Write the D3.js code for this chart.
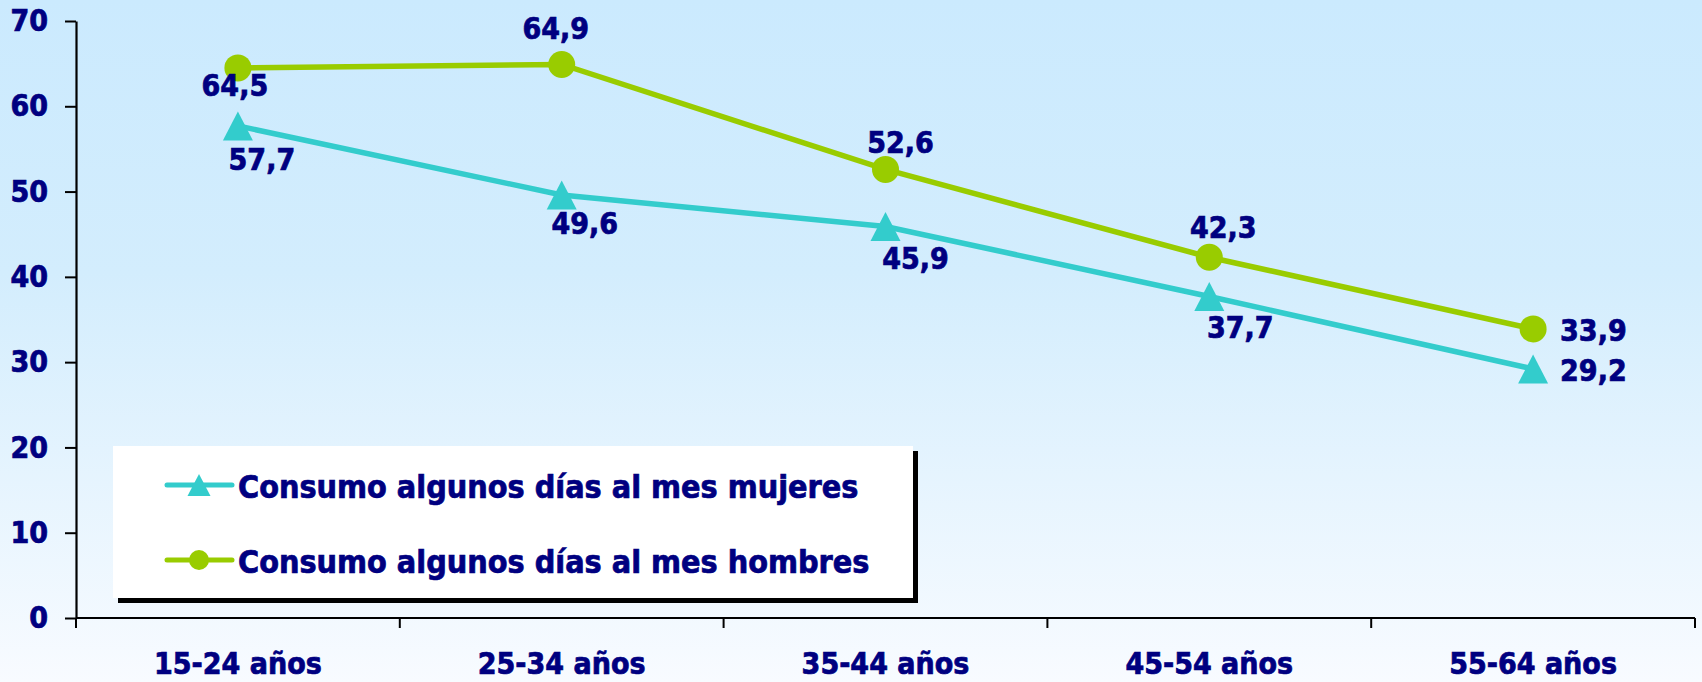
<!DOCTYPE html>
<html>
<head>
<meta charset="utf-8">
<script src="https://cdn.jsdelivr.net/npm/d3@7"></script>
<style>
  html, body { margin: 0; padding: 0; background: #fff; }
  svg { display: block; }
  text { font-family: "DejaVu Sans Condensed", "DejaVu Sans", sans-serif; font-weight: bold; font-stretch: condensed; fill: #000080; stroke: #000080; stroke-width: 0.7px; }
</style>
</head>
<body>
<div id="vis"></div>
<script>

var categories = ["15-24 años", "25-34 años", "35-44 años", "45-54 años", "55-64 años"];
var mujeres = [57.7, 49.6, 45.9, 37.7, 29.2];
var hombres = [64.5, 64.9, 52.6, 42.3, 33.9];
var seriesNames = ["Consumo algunos días al mes mujeres", "Consumo algunos días al mes hombres"];
var yTicks = [0, 10, 20, 30, 40, 50, 60, 70];

function drawChart() {

	var width = 1702, height = 682;

	// plot area
	var plotLeft = 76, plotRight = 1695, plotTop = 21, plotBottom = 618;

	// label nudges (dx, dy from the marker centre), placed like the original
	var mujeresLabelPos = [[24, 44, "middle"], [23, 39, "middle"], [30, 42, "middle"], [31, 42, "middle"], [27, 12, "start"]];
	var hombresLabelPos = [[-3, 28, "middle"], [-6, -25, "middle"], [15, -16, "middle"], [14, -19, "middle"], [27, 12, "start"]];

	var svg = d3.select("#vis").append("svg")
		.attr("width", width)
		.attr("height", height);

	var grad = svg.append("defs").append("linearGradient")
		.attr("id", "bg")
		.attr("x1", 0).attr("y1", 0).attr("x2", 0).attr("y2", 1);
	grad.append("stop").attr("offset", "0%").attr("stop-color", "#cbeafe");
	grad.append("stop").attr("offset", "40%").attr("stop-color", "#d3edfd");
	grad.append("stop").attr("offset", "100%").attr("stop-color", "#f8fbff");

	svg.append("rect")
		.attr("width", width)
		.attr("height", height)
		.attr("fill", "url(#bg)");

	var xScale = d3.scaleBand()
		.domain(categories)
		.range([plotLeft, plotRight])
		.padding(0);

	var yScale = d3.scaleLinear()
		.domain([0, 70])
		.range([plotBottom, plotTop]);

	var cx = function(d, i) { return xScale(categories[i]) + xScale.bandwidth() / 2; };

	// y axis
	var yAxis = svg.append("g")
		.attr("transform", "translate(" + plotLeft + ",0)")
		.call(d3.axisLeft(yScale).tickValues(yTicks).tickSize(11).tickPadding(17).tickSizeOuter(0));

	yAxis.select(".domain").attr("stroke", "#000").attr("stroke-width", 2.2);
	yAxis.selectAll(".tick line").attr("stroke", "#000").attr("stroke-width", 2);
	yAxis.selectAll(".tick text")
		.attr("font-size", 30)
		.attr("fill", "#000080");
	yAxis.attr("font-family", null).attr("font-size", null);

	// x axis: line, boundary ticks, centred labels
	var xAxis = svg.append("g");
	var bounds = categories.map(function(c) { return xScale(c); }).concat([plotRight]);

	xAxis.append("line")
		.attr("x1", plotLeft).attr("x2", plotRight)
		.attr("y1", plotBottom).attr("y2", plotBottom)
		.attr("stroke", "#000").attr("stroke-width", 2);

	xAxis.selectAll(".xtick")
		.data(bounds)
		.enter().append("line")
		.attr("class", "xtick")
		.attr("x1", function(d) { return d; }).attr("x2", function(d) { return d; })
		.attr("y1", plotBottom).attr("y2", plotBottom + 10)
		.attr("stroke", "#000").attr("stroke-width", 2);

	xAxis.selectAll(".xlabel")
		.data(categories)
		.enter().append("text")
		.attr("class", "xlabel")
		.attr("x", function(d) { return xScale(d) + xScale.bandwidth() / 2; })
		.attr("y", plotBottom + 56)
		.attr("text-anchor", "middle")
		.attr("font-size", 30)
		.text(function(d) { return d; });

	var line = d3.line()
		.x(cx)
		.y(function(d) { return yScale(d); });

	function triPath(w, h) {
		// triangle centred on its bounding box
		return "M0," + (-h / 2) + "L" + (w / 2) + "," + (h / 2) + "L" + (-w / 2) + "," + (h / 2) + "Z";
	}

	// mujeres
	svg.append("path")
		.datum(mujeres)
		.attr("d", line)
		.attr("fill", "none")
		.attr("stroke", "#33cccc")
		.attr("stroke-width", 5.5);

	// hombres
	svg.append("path")
		.datum(hombres)
		.attr("d", line)
		.attr("fill", "none")
		.attr("stroke", "#99cc00")
		.attr("stroke-width", 5.5);

	svg.selectAll(".triMark")
		.data(mujeres)
		.enter().append("path")
		.attr("class", "triMark")
		.attr("d", triPath(30, 29))
		.attr("transform", function(d, i) { return "translate(" + cx(d, i) + "," + yScale(d) + ")"; })
		.attr("fill", "#33cccc");

	svg.selectAll(".dotMark")
		.data(hombres)
		.enter().append("circle")
		.attr("class", "dotMark")
		.attr("cx", cx)
		.attr("cy", function(d) { return yScale(d); })
		.attr("r", 13.5)
		.attr("fill", "#99cc00");

	function fmt(v) { return d3.format(".1f")(v).replace(".", ","); }

	function drawLabels(values, pos, cls) {
		svg.selectAll("." + cls)
			.data(values)
			.enter().append("text")
			.attr("class", cls)
			.attr("x", function(d, i) { return cx(d, i) + pos[i][0]; })
			.attr("y", function(d, i) { return yScale(d) + pos[i][1]; })
			.attr("text-anchor", function(d, i) { return pos[i][2]; })
			.attr("font-size", 30)
			.text(fmt);
	}

	drawLabels(mujeres, mujeresLabelPos, "lblM");
	drawLabels(hombres, hombresLabelPos, "lblH");

	// legend
	var legend = svg.append("g");

	legend.append("rect")
		.attr("x", 118).attr("y", 451)
		.attr("width", 800).attr("height", 152)
		.attr("fill", "#000");

	legend.append("rect")
		.attr("x", 113).attr("y", 446)
		.attr("width", 800).attr("height", 152)
		.attr("fill", "#fff");

	var legendItems = [
		{ name: seriesNames[0], color: "#33cccc", shape: "tri", y: 485 },
		{ name: seriesNames[1], color: "#99cc00", shape: "dot", y: 560 }
	];

	legendItems.forEach(function(item) {
		legend.append("line")
			.attr("x1", 167).attr("x2", 232)
			.attr("y1", item.y).attr("y2", item.y)
			.attr("stroke", item.color)
			.attr("stroke-width", 5)
			.attr("stroke-linecap", "round");
		if (item.shape == "tri") {
			legend.append("path")
				.attr("d", triPath(23, 22))
				.attr("transform", "translate(199," + item.y + ")")
				.attr("fill", item.color);
		} else {
			legend.append("circle")
				.attr("cx", 199).attr("cy", item.y)
				.attr("r", 10)
				.attr("fill", item.color);
		}
		legend.append("text")
			.attr("x", 238)
			.attr("y", item.y + 13)
			.attr("font-size", 32)
			.text(item.name);
	});
}

drawChart();

</script>
</body>
</html>
